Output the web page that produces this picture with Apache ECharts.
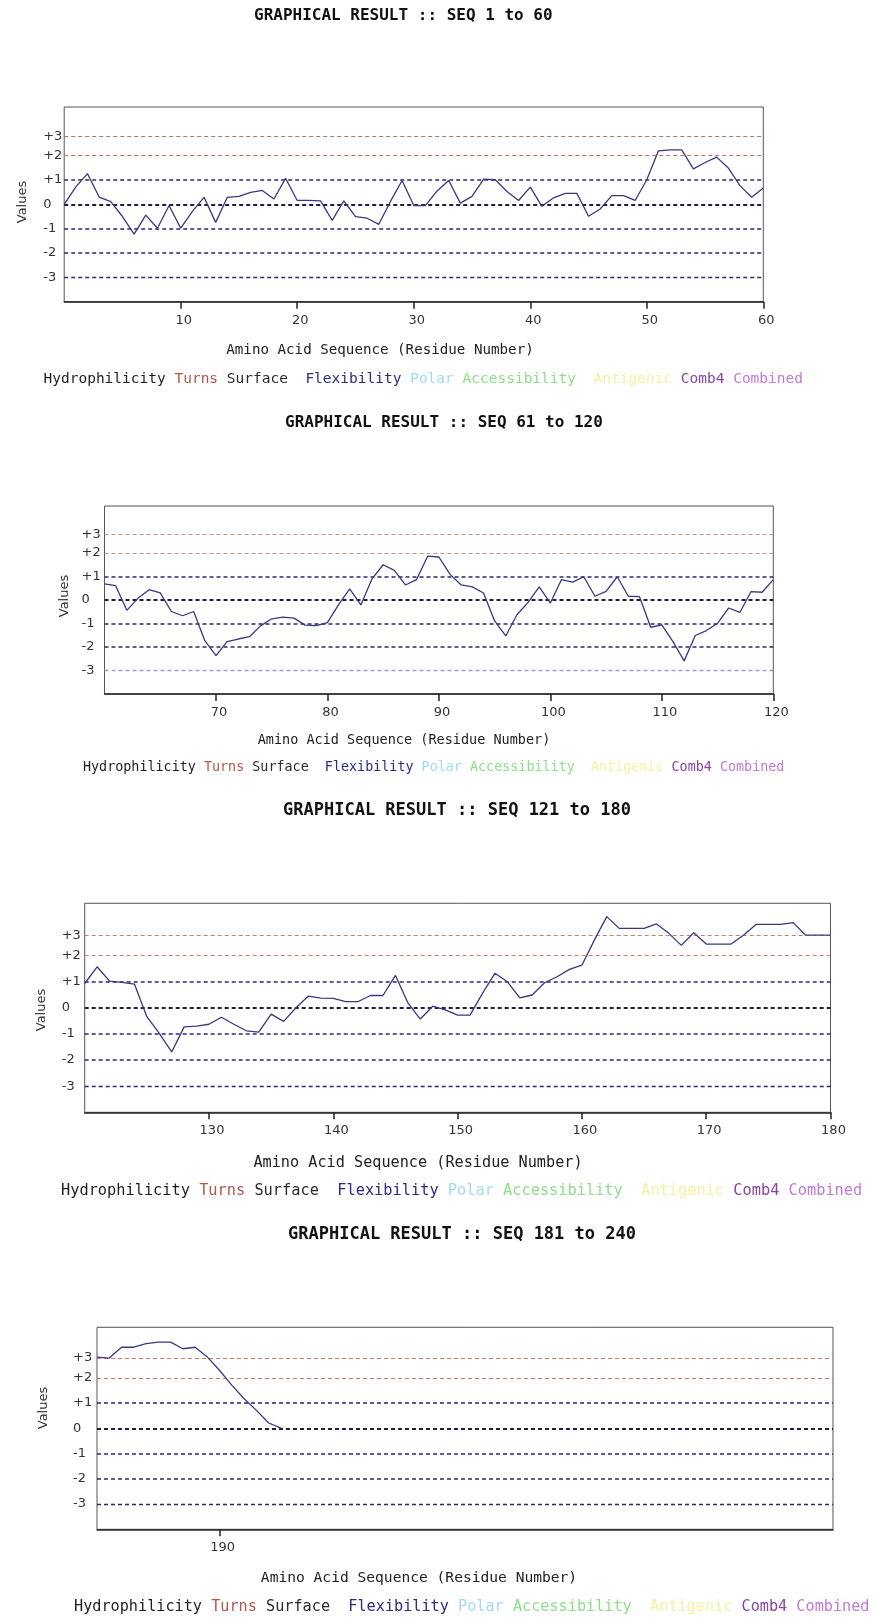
<!DOCTYPE html>
<html><head><meta charset="utf-8">
<script src="https://cdn.jsdelivr.net/npm/echarts@6/dist/echarts.min.js"></script>
<style>html,body{margin:0;padding:0;background:#fff}#c{width:873px;height:1618px}</style>
</head><body><div id="c"></div>
<script>
// ---- data ----
const START_1 = 0;
const VALUES_1 = [0, 0.72, 1.26, 0.30, 0.11, -0.50, -1.22, -0.44, -0.98, -0.05,
  -0.98, -0.29, 0.29, -0.74, 0.29, 0.33, 0.49, 0.57, 0.22, 1.07,
  0.16, 0.16, 0.14, -0.66, 0.14, -0.50, -0.57, -0.82, 0.12, 0.98,
  -0.05, -0.05, 0.55, 0.98, 0.05, 0.33, 1.04, 1.01, 0.53, 0.16,
  0.71, -0.08, 0.27, 0.45, 0.45, -0.49, -0.19, 0.36, 0.36, 0.16,
  1.01, 2.20, 2.24, 2.24, 1.46, 1.72, 1.94, 1.49, 0.77, 0.29, 0.67];
const START_2 = 60;
const VALUES_2 = [0.69, 0.61, -0.44, 0.07, 0.44, 0.30, -0.49, -0.67, -0.49, -1.73,
  -2.37, -1.77, -1.66, -1.56, -1.10, -0.80, -0.73, -0.77, -1.07, -1.09,
  -0.96, -0.20, 0.47, -0.21, 0.90, 1.50, 1.26, 0.64, 0.87, 1.87,
  1.83, 1.09, 0.64, 0.56, 0.30, -0.89, -1.53, -0.63, -0.10, 0.56,
  -0.13, 0.87, 0.76, 0.99, 0.16, 0.37, 0.99, 0.16, 0.14, -1.16,
  -1.06, -1.77, -2.59, -1.51, -1.30, -0.99, -0.34, -0.53, 0.36, 0.33, 0.87];
const START_3 = 120;
const VALUES_3 = [0.93, 1.57, 1.02, 0.97, 0.91, -0.34, -0.98, -1.69, -0.73, -0.70,
  -0.63, -0.36, -0.63, -0.88, -0.93, -0.24, -0.52, 0.00, 0.45, 0.37,
  0.36, 0.24, 0.24, 0.47, 0.47, 1.24, 0.19, -0.43, 0.06, -0.08,
  -0.28, -0.28, 0.55, 1.32, 1.00, 0.38, 0.49, 0.96, 1.19, 1.47,
  1.63, 2.59, 3.49, 3.04, 3.04, 3.04, 3.21, 2.85, 2.39, 2.87,
  2.44, 2.44, 2.44, 2.78, 3.19, 3.19, 3.19, 3.26, 2.78, 2.78, 2.78];
const START_4 = 180;
const VALUES_4 = [2.82, 2.78, 3.21, 3.21, 3.35, 3.41, 3.41, 3.15, 3.21, 2.82,
  2.29, 1.70, 1.17, 0.71, 0.21, 0.01];

const X_RANGES = [[0, 60], [60, 120], [120, 180], [180, 240]];
const X_TICKS_1 = [10, 20, 30, 40, 50, 60];
const X_TICKS_2 = [70, 80, 90, 100, 110, 120];
const X_TICKS_3 = [130, 140, 150, 160, 170, 180];
const X_TICKS_4 = [190];
const Y_LEVELS = [2.78, 2, 1, 0, -1, -2, -3];
const Y_LABELS = ['+3', '+2', '+1', '0', '-1', '-2', '-3'];
const TITLES = ['GRAPHICAL RESULT :: SEQ 1 to 60', 'GRAPHICAL RESULT :: SEQ 61 to 120',
  'GRAPHICAL RESULT :: SEQ 121 to 180', 'GRAPHICAL RESULT :: SEQ 181 to 240'];
const X_NAME = 'Amino Acid Sequence (Residue Number)';
const Y_NAME = 'Values';
const LEGEND_ITEMS = ['Hydrophilicity', 'Turns', 'Surface', 'Flexibility', 'Polar', 'Accessibility', 'Antigenic', 'Comb4', 'Combined'];
const LEGEND_COLORS = ['#1e1e1e', '#b4574c', '#2a2a2a', '#2c2c86', '#9fdcf0', '#8fde8a', '#f4f2a0', '#8b44a6', '#c27ad2'];
const LEGEND_GAPS = [' ', ' ', '  ', ' ', ' ', '  ', ' ', ' '];

// ---- layout ----
const PANELS = [
  {grid: {left: 64.2, top: 107, width: 699.1, height: 194.7}, ticks: X_TICKS_1, start: START_1, values: VALUES_1,
   ylabMargin: 21, title: {x: 254, y: 16, fs: 16}, xname: {x: 380, y: 350, fs: 14.2}, legend: {x: 43.5, y: 379, fs: 14.5},
   yname: {x: 22.5, y: 202}, red: '#c4705f', low: '#2a2a6e'},
  {grid: {left: 104.5, top: 506, width: 668.8, height: 188}, ticks: X_TICKS_2, start: START_2, values: VALUES_2,
   ylabMargin: 23, title: {x: 285, y: 423, fs: 16}, xname: {x: 404, y: 740, fs: 13.5}, legend: {x: 83, y: 767.7, fs: 13.4},
   yname: {x: 65, y: 596}, red: '#d0907f', low: '#9c9cd2'},
  {grid: {left: 84.7, top: 903.3, width: 745.8, height: 209}, ticks: X_TICKS_3, start: START_3, values: VALUES_3,
   ylabMargin: 23, title: {x: 283, y: 811, fs: 17}, xname: {x: 418, y: 1163, fs: 15.2}, legend: {x: 61, y: 1191, fs: 15.3},
   yname: {x: 42, y: 1010}, red: '#c97c6c', low: '#2a2a6e'},
  {grid: {left: 97, top: 1327.3, width: 736, height: 202}, ticks: X_TICKS_4, start: START_4, values: VALUES_4,
   ylabMargin: 24, title: {x: 288, y: 1235, fs: 17}, xname: {x: 419, y: 1578, fs: 14.6}, legend: {x: 74, y: 1607, fs: 15.2},
   yname: {x: 44, y: 1408}, red: '#c97c6c', low: '#2a2a6e'}
];

const MONO = '"DejaVu Sans Mono", "Liberation Mono", monospace';
const SANS = '"DejaVu Sans", sans-serif';

const grids = [], xAxes = [], yAxes = [], series = [], graphics = [];
PANELS.forEach((p, i) => {
  grids.push(Object.assign({show: true, borderColor: '#555', borderWidth: 1, containLabel: false}, p.grid));
  xAxes.push({
    type: 'value', gridIndex: i, min: X_RANGES[i][0], max: X_RANGES[i][1],
    axisLine: {show: true, onZero: false, lineStyle: {color: '#222', width: 1.5}},
    axisTick: {show: true, customValues: p.ticks, length: 7, lineStyle: {color: '#222', width: 1.5}},
    axisLabel: {customValues: p.ticks, margin: 12, fontFamily: SANS, fontSize: 13, color: '#333', padding: [0, 0, 0, 6]},
    splitLine: {show: false}
  });
  yAxes.push({
    type: 'value', gridIndex: i, min: -4, max: 4,
    axisLine: {show: false, onZero: false}, axisTick: {show: false}, splitLine: {show: false},
    axisLabel: {customValues: Y_LEVELS, align: 'left', margin: p.ylabMargin, fontFamily: SANS, fontSize: 13, color: '#333',
      formatter: v => { const k = Y_LEVELS.findIndex(l => Math.abs(l - v) < 1e-6); return k >= 0 ? Y_LABELS[k] : ''; }}
  });
  const lineColors = [p.red, p.red, '#2a2a70', '#1e1e44', '#2a2a70', '#2a2a70', p.low];
  const lineWidths = [1.2, 1.2, 1.6, 1.8, 1.6, 1.6, 1.4];
  series.push({
    type: 'line', xAxisIndex: i, yAxisIndex: i, z: 3,
    data: p.values.map((v, k) => [p.start + k, v]),
    showSymbol: false, symbol: 'none',
    lineStyle: {color: '#383880', width: 1.3},
    markLine: {
      silent: true, symbol: ['none', 'none'], z: 1, label: {show: false},
      data: Y_LEVELS.map((v, k) => ({yAxis: v, lineStyle: {color: lineColors[k], type: [4, 3], width: lineWidths[k]}}))
    }
  });
  graphics.push({type: 'text', x: p.title.x, y: p.title.y,
    style: {text: TITLES[i], font: 'bold ' + p.title.fs + 'px ' + MONO, fill: '#111', align: 'left', verticalAlign: 'middle'}});
  graphics.push({type: 'text', x: p.xname.x, y: p.xname.y,
    style: {text: X_NAME, font: p.xname.fs + 'px ' + MONO, fill: '#222', align: 'center', verticalAlign: 'middle'}});
  graphics.push({type: 'text', x: p.yname.x, y: p.yname.y, rotation: Math.PI / 2,
    style: {text: Y_NAME, font: '13px ' + SANS, fill: '#333', align: 'center', verticalAlign: 'middle'}});
  const rich = {};
  let txt = '';
  LEGEND_ITEMS.forEach((name, k) => {
    rich['k' + k] = {fill: LEGEND_COLORS[k], fontSize: p.legend.fs, fontFamily: MONO};
    txt += '{k' + k + '|' + name + '}' + (k < LEGEND_GAPS.length ? LEGEND_GAPS[k] : '');
  });
  graphics.push({type: 'text', x: p.legend.x, y: p.legend.y,
    style: {text: txt, rich: rich, font: p.legend.fs + 'px ' + MONO, fill: '#222', align: 'left', verticalAlign: 'middle'}});
});

const chart = echarts.init(document.getElementById('c'), null, {renderer: 'canvas'});
chart.setOption({
  animation: false,
  backgroundColor: '#fff',
  grid: grids, xAxis: xAxes, yAxis: yAxes, series: series,
  graphic: graphics
});
</script></body></html>
